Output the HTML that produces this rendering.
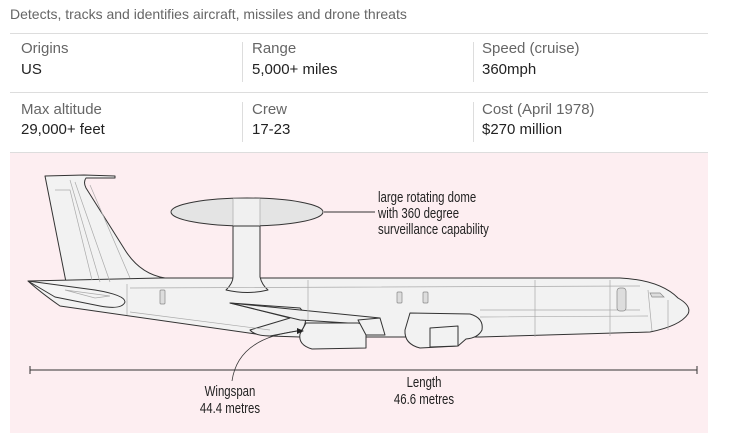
<!DOCTYPE html>
<html><head><meta charset="utf-8"><style>
body{margin:0;width:742px;height:445px;background:#fff;font-family:"Liberation Sans",sans-serif;position:relative;overflow:hidden}
.t{position:absolute;white-space:nowrap}
.sub{left:10px;top:6px;font-size:14px;color:#666}
.hr{position:absolute;left:10px;width:698px;height:1px;background:#ddd}
.vr{position:absolute;width:1px;background:#ddd}
.l{font-size:15px;color:#666}
.v{font-size:15px;color:#222}
.panel{position:absolute;left:10px;top:153px;width:698px;height:280px;background:#fdeef1}
</style></head><body>
<div class="t sub">Detects, tracks and identifies aircraft, missiles and drone threats</div>
<div class="hr" style="top:33px"></div>
<div class="vr" style="left:242px;top:42px;height:40px"></div>
<div class="vr" style="left:473px;top:42px;height:40px"></div>
<div class="t l" style="left:21px;top:40px">Origins</div>
<div class="t v" style="left:21px;top:61px">US</div>
<div class="t l" style="left:252px;top:40px">Range</div>
<div class="t v" style="left:252px;top:61px">5,000+ miles</div>
<div class="t l" style="left:482px;top:40px">Speed (cruise)</div>
<div class="t v" style="left:482px;top:61px">360mph</div>
<div class="hr" style="top:92px"></div>
<div class="vr" style="left:242px;top:102px;height:40px"></div>
<div class="vr" style="left:473px;top:102px;height:40px"></div>
<div class="t l" style="left:21px;top:101px">Max altitude</div>
<div class="t v" style="left:21px;top:121px">29,000+ feet</div>
<div class="t l" style="left:252px;top:101px">Crew</div>
<div class="t v" style="left:252px;top:121px">17-23</div>
<div class="t l" style="left:482px;top:101px">Cost (April 1978)</div>
<div class="t v" style="left:482px;top:121px">$270 million</div>
<div class="hr" style="top:152px"></div>
<div class="panel"></div>
<svg width="742" height="445" style="position:absolute;left:0;top:0" xmlns="http://www.w3.org/2000/svg">
<g stroke="#333" stroke-width="1" fill="#f2f2f2" stroke-linejoin="round">
<path d="M45,176 L84,175 L115,176 L115,178 L86,178 Q83,182 86,188 L125,250 Q140,274 165,278 L170,282 L66,282 Z"/>
<path d="M28,281 L160,278 L620,278 Q660,280 678,298 Q692,306 688,314 Q680,326 650,332 L480,337 L300,337 L270,336 L60,306 Q40,292 28,281 Z"/>
<path d="M28,281 L95,290 Q125,295 125,302 Q122,310 100,306 L55,297 Z" fill="#f4f4f4"/>
<path d="M230,303 L300,308 Q310,318 302,330 L270,336 Q255,336 250,330 L290,318 Z" fill="#efefef"/>
<path d="M230,303 L380,318 L380,325 L300,320 Z" fill="#f0f0f0"/>
<path d="M306,323 L358,323 Q368,325 366,333 L366,348 L312,349 Q298,345 300,334 Z"/>
<path d="M358,320 L380,318 L385,335 L366,335 Z"/>
<path d="M410,313 L470,314 Q484,318 482,330 Q478,338 466,339 L458,346 L420,348 Q404,344 405,330 Z"/>
<path d="M430,328 L458,326 L458,346 L430,347 Z"/>
<path d="M233,226 L260,226 L260,277 Q262,285 268,290 Q248,295 226,290 Q233,283 233,277 Z"/>
<ellipse cx="247" cy="212" rx="76" ry="14" fill="#e4e4e4"/>
<rect x="233" y="198.5" width="27" height="27" fill="#f0f0f0" stroke="none"/>
<path d="M233,199 L233,225 M260,199 L260,225" stroke="#bbb"/>
</g>
<g stroke="#aaa" stroke-width="0.7" fill="none">
<path d="M55,190 L70,190 L92,280 M70,180 L100,282 M75,182 L110,282 M90,185 L130,278"/>
<path d="M127,284 L127,315 M308,280 L308,320 M535,280 L535,337 M610,280 L610,336 M648,290 L652,331 M668,300 L668,330"/>
<path d="M130,288 L640,286 M130,312 L270,330 M480,317 L648,316 M480,310 L640,310"/>
<path d="M65,290 L110,296 L95,298 Z"/>
</g>
<g fill="#ddd" stroke="#888" stroke-width="0.7">
<rect x="160" y="290" width="5" height="14" rx="1"/>
<rect x="397" y="292" width="5" height="11" rx="1"/>
<rect x="423" y="292" width="5" height="11" rx="1"/>
<rect x="617" y="288" width="9" height="23" rx="3"/>
<path d="M650,293 L660,293 L664,297 L652,297 Z"/>
</g>
<path d="M324,212 L375,212" stroke="#333" stroke-width="1"/>
<path d="M30,370 L697,370 M30,366 L30,374 M697,366 L697,374" stroke="#333" stroke-width="1"/>
<path d="M232,381 Q238,338 298,331" stroke="#333" stroke-width="0.8" fill="none"/>
<path d="M304,331 L297,328 L297,334 Z" fill="#222"/>
<g font-family="'Liberation Sans',sans-serif" font-size="15" fill="#222">
<text transform="translate(378,202) scale(0.76,1)">large rotating dome</text>
<text transform="translate(378,218) scale(0.76,1)">with 360 degree</text>
<text transform="translate(378,234) scale(0.76,1)">surveillance capability</text>
<text transform="translate(230,396) scale(0.76,1)" text-anchor="middle">Wingspan</text>
<text transform="translate(230,413) scale(0.76,1)" text-anchor="middle">44.4 metres</text>
<text transform="translate(424,387) scale(0.76,1)" text-anchor="middle">Length</text>
<text transform="translate(424,404) scale(0.76,1)" text-anchor="middle">46.6 metres</text>
</g>
</svg>
</body></html>
